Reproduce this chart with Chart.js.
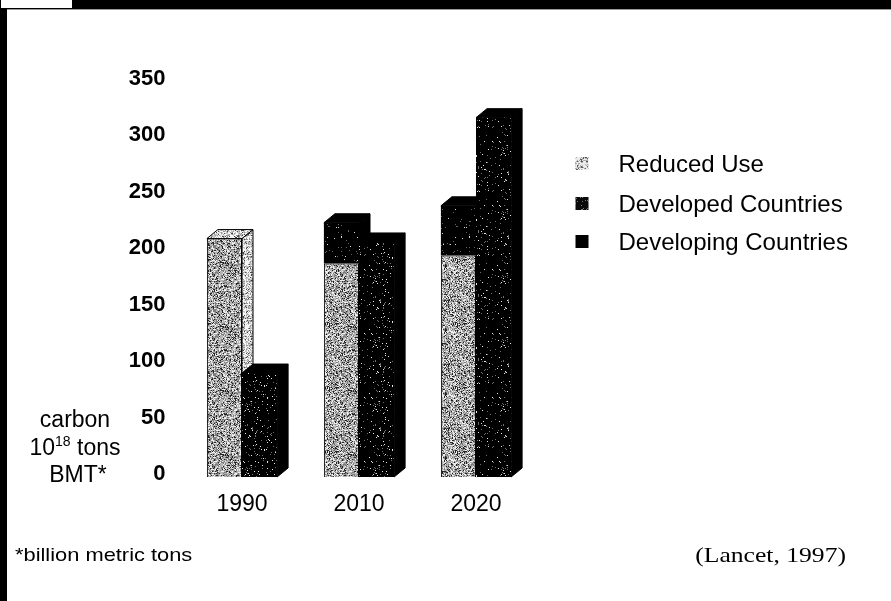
<!DOCTYPE html>
<html>
<head>
<meta charset="utf-8">
<script src="https://cdn.jsdelivr.net/npm/chart.js@4/dist/chart.umd.min.js"></script>
<style>
  html, body { margin: 0; padding: 0; background: #fff; }
  canvas { display: block; }
</style>
</head>
<body>
<canvas id="chart" width="891" height="601"></canvas>
<script>
// Carbon emissions, billion metric tons
const years = ['1990', '2010', '2020'];
const reducedUse = [211, 189, 196];
const developedCountries = [0, 36, 44];
const developingCountries = [92, 208, 318];
const yTickValues = [0, 50, 100, 150, 200, 250, 300, 350];
const seriesNames = ['Reduced Use', 'Developed Countries', 'Developing Countries'];
const unitLines = ['carbon', '10', '18', ' tons', 'BMT*'];
const footnote = '*billion metric tons';
const sourceNote = '(Lancet, 1997)';

// Deterministic grain texture (printed halftone look)
function makeGrain(size, levels, seed) {
  const cv = document.createElement('canvas');
  cv.width = cv.height = size;
  const g = cv.getContext('2d');
  const img = g.createImageData(size, size);
  let s = seed;
  for (let i = 0; i < size * size; i++) {
    s = (s * 1103515245 + 12345) & 0x7fffffff;
    const r = s / 0x7fffffff;
    let v = levels[levels.length - 1][1];
    for (const [p, val] of levels) { if (r < p) { v = val; break; } }
    img.data[i * 4] = img.data[i * 4 + 1] = img.data[i * 4 + 2] = v;
    img.data[i * 4 + 3] = 255;
  }
  g.putImageData(img, 0, 0);
  return cv;
}

const canvas = document.getElementById('chart');
const ctx = canvas.getContext('2d');

const greyGrain = makeGrain(64, [[0.15, 35], [0.40, 125], [0.75, 180], [1, 238]], 7);
const greyLightGrain = makeGrain(64, [[0.08, 70], [0.28, 150], [0.62, 200], [1, 248]], 11);
const darkGrain = makeGrain(64, [[0.022, 230], [0.05, 110], [1, 0]], 23);
const darkerGrain = makeGrain(64, [[0.01, 220], [0.025, 100], [1, 0]], 31);

const faceFill = [
  ctx.createPattern(greyGrain, 'repeat'),
  ctx.createPattern(darkerGrain, 'repeat'),
  ctx.createPattern(darkGrain, 'repeat')
];
const sideFill = [ctx.createPattern(greyLightGrain, 'repeat'), '#000', '#000'];
const swatchFill = [
  ctx.createPattern(makeGrain(16, [[0.15, 90], [0.45, 170], [1, 235]], 5), 'repeat'),
  ctx.createPattern(makeGrain(16, [[0.12, 120], [1, 10]], 9), 'repeat'),
  '#000'
];

// Depth faces (side + top) for each bar, drawn behind the front faces
const DX = 11, DY = -9;
const depthPlugin = {
  id: 'depth',
  beforeDatasetsDraw(chart) {
    const c = chart.ctx;
    const stacks = [[0, 1], [2]];
    c.save();
    c.lineWidth = 1;
    c.strokeStyle = '#000';
    for (let k = 0; k < years.length; k++) {
      for (const st of stacks) {
        let topEl = null, topDs = -1;
        for (const di of st) {
          if (!(chart.data.datasets[di].data[k] > 0)) continue;
          const el = chart.getDatasetMeta(di).data[k];
          const r = el.x + el.width / 2;
          c.beginPath();
          c.moveTo(r, el.y);
          c.lineTo(r + DX, el.y + DY);
          c.lineTo(r + DX, el.base + DY);
          c.lineTo(r, el.base);
          c.closePath();
          c.fillStyle = sideFill[di];
          c.fill();
          c.stroke();
          topEl = el; topDs = di;
        }
        if (topEl) {
          const l = topEl.x - topEl.width / 2, r = topEl.x + topEl.width / 2;
          c.beginPath();
          c.moveTo(l, topEl.y);
          c.lineTo(l + DX, topEl.y + DY);
          c.lineTo(r + DX, topEl.y + DY);
          c.lineTo(r, topEl.y);
          c.closePath();
          c.fillStyle = sideFill[topDs];
          c.fill();
          c.stroke();
        }
      }
    }
    c.restore();
  }
};

// Series key to the right of the plot
const keyPlugin = {
  id: 'seriesKey',
  afterDraw(chart) {
    const c = chart.ctx;
    const x0 = chart.chartArea.right + 41;
    const rows = [165, 205, 243];
    c.save();
    c.font = '24px "Liberation Sans", Arial, sans-serif';
    c.textAlign = 'left';
    c.textBaseline = 'middle';
    chart.data.datasets.forEach((ds, i) => {
      c.fillStyle = swatchFill[i];
      c.fillRect(x0, rows[i] - 8, 13, 13);
      c.fillStyle = '#000';
      c.fillText(ds.label, x0 + 43, rows[i]);
    });
    c.restore();
  }
};

// Page frame and the free-standing notes
const framePlugin = {
  id: 'frame',
  beforeDraw(chart) {
    const c = chart.ctx;
    c.save();
    c.fillStyle = '#fff';
    c.fillRect(0, 0, chart.width, chart.height);
    c.fillStyle = '#000';
    c.fillRect(0, 0, chart.width, 9);
    c.fillStyle = '#fff';
    c.fillRect(1, 0, 71, 8);
    c.fillStyle = '#000';
    c.fillRect(0, 8, 7, chart.height - 8);
    c.fillStyle = '#9a9a9a';
    c.fillRect(7, 9, chart.width - 7, 1);
    c.restore();
  },
  afterDraw(chart) {
    const c = chart.ctx;
    c.save();
    c.fillStyle = '#000';
    c.textBaseline = 'middle';
    const cx = 75;
    c.font = '23px "Liberation Sans", Arial, sans-serif';
    c.textAlign = 'center';
    c.fillText(unitLines[0], cx, 421);
    c.fillText(unitLines[4], cx + 3, 476);
    // second line: 10 with superscript 18, then "tons"
    c.textAlign = 'left';
    const bigFont = '23px "Liberation Sans", Arial, sans-serif';
    const supFont = '14px "Liberation Sans", Arial, sans-serif';
    c.font = bigFont; const w1 = c.measureText(unitLines[1]).width; const w3 = c.measureText(unitLines[3]).width;
    c.font = supFont; const w2 = c.measureText(unitLines[2]).width;
    let x = cx - (w1 + w2 + w3) / 2;
    c.font = bigFont; c.fillText(unitLines[1], x, 449); x += w1;
    c.font = supFont; c.fillText(unitLines[2], x, 442); x += w2;
    c.font = bigFont; c.fillText(unitLines[3], x, 449);

    // footnote and source
    c.save();
    c.translate(15, 556);
    c.scale(1.15, 1);
    c.font = '19px "Liberation Sans", Arial, sans-serif';
    c.textAlign = 'left';
    c.fillText(footnote, 0, 0);
    c.restore();
    c.save();
    c.translate(846, 556);
    c.scale(1.22, 1);
    c.font = '21px "Liberation Serif", "Times New Roman", serif';
    c.textAlign = 'right';
    c.fillText(sourceNote, 0, 0);
    c.restore();
    c.restore();
  }
};

new Chart(ctx, {
  type: 'bar',
  data: {
    labels: years,
    datasets: [
      { label: seriesNames[0], data: reducedUse, stack: 'left', backgroundColor: faceFill[0], borderColor: '#000', borderWidth: 1 },
      { label: seriesNames[1], data: developedCountries, stack: 'left', backgroundColor: faceFill[1], borderColor: '#000', borderWidth: 0 },
      { label: seriesNames[2], data: developingCountries, stack: 'right', backgroundColor: faceFill[2], borderColor: '#000', borderWidth: 0 }
    ]
  },
  options: {
    responsive: false,
    animation: false,
    devicePixelRatio: 1,
    layout: { padding: { left: 0, top: 81.5, right: 356.5, bottom: 64 } },
    datasets: { bar: { categoryPercentage: 0.6, barPercentage: 1 } },
    scales: {
      x: {
        stacked: true,
        grid: { display: false, drawTicks: false },
        border: { display: false },
        ticks: { color: '#000', padding: 14, font: { family: '"Liberation Sans", Arial, sans-serif', size: 23 } },
        afterFit(s) { s.height = 60; }
      },
      y: {
        stacked: true,
        min: 0, max: 350,
        grid: { display: false, drawTicks: false },
        border: { display: false },
        afterBuildTicks(s) { s.ticks = yTickValues.map(v => ({ value: v })); },
        ticks: { color: '#000', padding: 18, labelOffset: -3, font: { family: '"Liberation Sans", Arial, sans-serif', size: 22, weight: 'bold' } },
        afterFit(s) { s.width = 183.5; }
      }
    },
    plugins: {
      tooltip: { enabled: false },
      legend: { display: false }
    }
  },
  plugins: [framePlugin, depthPlugin, keyPlugin]
});
</script>
</body>
</html>
